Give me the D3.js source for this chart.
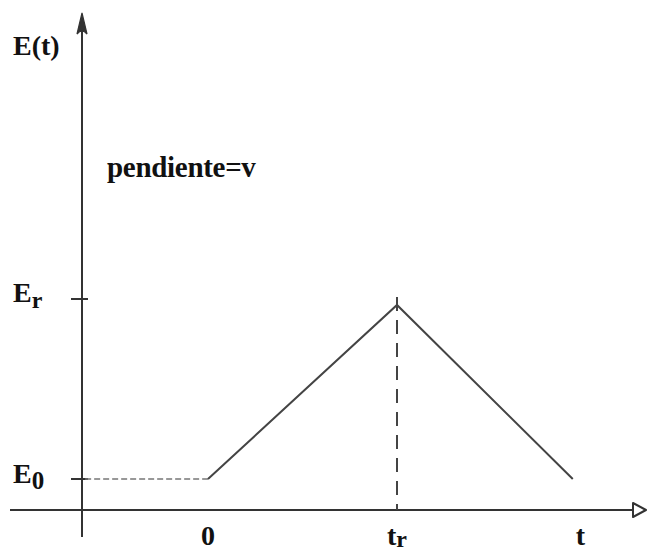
<!DOCTYPE html>
<html>
<head>
<meta charset="utf-8">
<script src="https://cdn.jsdelivr.net/npm/d3@7"></script>
<style>
  html, body { margin: 0; padding: 0; background: #fff; }
  svg { display: block; }
  text { font-family: "Liberation Serif", "Times New Roman", serif; font-weight: bold; fill: #111; }
</style>
</head>
<body>
<svg id="chart" width="647" height="553"></svg>
<script>
// Potential sweep E(t): rest at E0, linear rise to Er at t_r, then linear fall back
const sweepTimes = [-0.65, 0, 1, 1.93];       // in units of t_r
const sweepPotentials = [0, 0, 1, 0];         // 0 = E0, 1 = Er
const holdSegment = [0, 1];                   // indices of the initial hold (dotted)
const rampSegment = [1, 2, 3];                // indices of the triangular ramp (solid)
const potentialTicks = [{ value: 0, base: "E", sub: "0" }, { value: 1, base: "E", sub: "r" }];
const timeTicks = [{ value: 0, base: "0", sub: "" }, { value: 1, base: "t", sub: "r" }, { value: 1.97, base: "t", sub: "" }];
const slopeLabel = "pendiente=v";
const yAxisLabel = "E(t)";

const svg = d3.select("#chart");

const x = d3.scaleLinear().domain([0, 1]).range([208, 397]);
const y = d3.scaleLinear().domain([0, 1]).range([479, 305]);

const axisX = 82;      // vertical axis position
const axisY = 510;     // horizontal axis position

// Axes
svg.append("line")
  .attr("x1", axisX).attr("x2", axisX).attr("y1", 20).attr("y2", 537)
  .attr("stroke", "#333").attr("stroke-width", 2);
svg.append("path")
  .attr("d", `M${axisX},13 L${axisX - 5},34 Q${axisX},28 ${axisX + 5},34 Z`)
  .attr("fill", "#333").attr("stroke", "#333").attr("stroke-width", 1.2);

svg.append("line")
  .attr("x1", 10).attr("x2", 633).attr("y1", axisY).attr("y2", axisY)
  .attr("stroke", "#333").attr("stroke-width", 2);
svg.append("path")
  .attr("d", `M633,${axisY - 7} L646,${axisY} L633,${axisY + 7} Z`)
  .attr("fill", "#fff").attr("stroke", "#333").attr("stroke-width", 2)
  .attr("stroke-linejoin", "round");

// Ticks on the potential axis
svg.selectAll(".ytick")
  .data(potentialTicks)
  .join("line")
  .attr("x1", axisX - 11).attr("x2", axisX + 6)
  .attr("y1", d => y(d.value) - (d.value === 1 ? 6 : 0))
  .attr("y2", d => y(d.value) - (d.value === 1 ? 6 : 0))
  .attr("stroke", "#333").attr("stroke-width", 2);

// Potential labels with subscripts
potentialTicks.forEach(d => {
  const t = svg.append("text")
    .attr("x", 13)
    .attr("y", y(d.value) + (d.value === 1 ? -3 : 4))
    .attr("font-size", 28);
  t.append("tspan").text(d.base);
  t.append("tspan").attr("dy", 6).attr("font-size", d.sub === "0" ? 25 : 24).text(d.sub);
});

// Time labels
timeTicks.forEach(d => {
  const t = svg.append("text")
    .attr("x", x(d.value) + (d.sub ? -10 : 0))
    .attr("y", 545)
    .attr("text-anchor", d.sub ? "start" : "middle")
    .attr("font-size", 28);
  t.append("tspan").text(d.base);
  if (d.sub) t.append("tspan").attr("dy", 2).attr("font-size", 24).text(d.sub);
});

// Axis title and slope note
svg.append("text").attr("x", 13).attr("y", 55).attr("font-size", 28).text(yAxisLabel);
svg.append("text").attr("x", 107).attr("y", 177).attr("font-size", 29)
  .attr("letter-spacing", -0.3).text(slopeLabel);

const line = d3.line()
  .x(i => x(sweepTimes[i]))
  .y(i => y(sweepPotentials[i]));

// Initial hold at E0 (dotted)
svg.append("path")
  .attr("d", line(holdSegment))
  .attr("fill", "none").attr("stroke", "#777").attr("stroke-width", 1.3)
  .attr("stroke-dasharray", "6,3");

// Triangular ramp
svg.append("path")
  .attr("d", line(rampSegment))
  .attr("fill", "none").attr("stroke", "#444").attr("stroke-width", 2)
  .attr("stroke-linejoin", "miter");

// Dashed drop line from the switching point to the time axis
svg.append("line")
  .attr("x1", x(1)).attr("x2", x(1))
  .attr("y1", y(1) - 8).attr("y2", axisY)
  .attr("stroke", "#444").attr("stroke-width", 2)
  .attr("stroke-dasharray", "14,9");
</script>
</body>
</html>
